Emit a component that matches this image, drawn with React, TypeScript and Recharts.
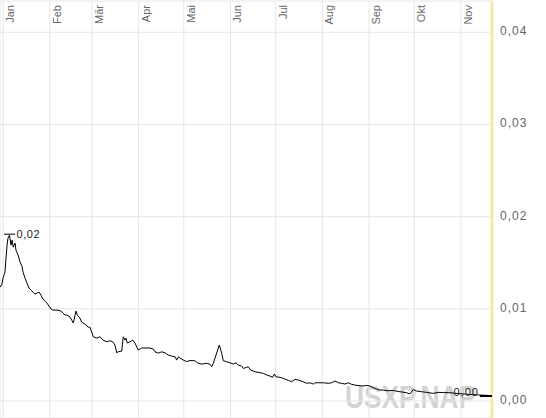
import React from 'react';
import { LineChart, Line, XAxis, YAxis, CartesianGrid } from 'recharts';

// month grid: day-of-year where each month starts
const months = ['Jan', 'Feb', 'Mär', 'Apr', 'Mai', 'Jun', 'Jul', 'Aug', 'Sep', 'Okt', 'Nov'];
const monthStarts = [0, 31, 59, 90, 120, 151, 181, 212, 243, 273, 304];

const priceTicks = [0, 0.01, 0.02, 0.03, 0.04];

// day index (since 1 Jan) and closing price
const days = [
  -1.9, -0.7, 0, 1.3, 2, 2.7, 3.3, 4.3, 5.3, 6, 6.8, 8, 8.6, 10, 11.3, 12.6, 13.3, 14.6, 15.9, 17.3,
  18.6, 19.9, 21.2, 22.6, 23.9, 25.2, 26.5, 27.9, 29.2, 30.5, 31.9, 33.2, 35.2, 36.5, 38.5, 39.8, 41.2, 42.5, 44.5, 45.6,
  46.7, 47.8, 48.5, 49.3, 51.1, 52.2, 54.4, 56.6, 57.7, 58.9, 59.9, 62.2, 64.4, 66.4, 68.8, 71, 72.8, 74.3, 75.5, 76.5,
  78.8, 79.8, 81, 81.6, 82.5, 84.3, 86.1, 87.6, 89.8, 92.1, 94.3, 97.6, 99.8, 100.9, 103.1, 105.3, 107.5, 109.7, 112, 114.2,
  115.3, 116.4, 117.5, 119.7, 121.9, 124.1, 127.4, 129.6, 131.9, 135.2, 137.4, 138.5, 139.6, 141.4, 143.6, 145.2, 146.2, 148.5, 150.7, 152.9,
  154.6, 156.2, 158.4, 159.5, 161.7, 162.8, 164.4, 167.3, 170.6, 172.8, 175, 177.2, 179, 180.1, 181.2, 183.9, 186, 189.4, 191.6, 193.8,
  196, 199.3, 201.6, 203.8, 206, 207.1, 209.3, 212.6, 216, 218.2, 220.4, 222.6, 224.8, 227, 229.2, 231.4, 233.6, 237, 239.1, 241.4,
  243.6, 245.8, 248, 250.2, 252.4, 254.7, 259.1, 263.5, 268, 270.1, 272.3, 274.6, 277.9, 281.2, 285.6, 288.9, 292.3, 296.7, 302, 306.6,
  311.3, 316.6, 323.2,
];
const prices = [
  0.01236, 0.01268, 0.01333, 0.01398, 0.0155, 0.01691, 0.01767, 0.01799, 0.01691, 0.01745, 0.01669, 0.01713, 0.01637, 0.01583, 0.01507, 0.01463, 0.01398, 0.01333, 0.01279, 0.01225,
  0.01203, 0.01182, 0.0116, 0.01171, 0.01182, 0.01149, 0.01106, 0.01084, 0.01062, 0.0103, 0.00997, 0.00986, 0.00986, 0.00986, 0.00976, 0.00954, 0.00932, 0.00932, 0.00911, 0.00878,
  0.00846, 0.00932, 0.00976, 0.00932, 0.009, 0.00856, 0.00835, 0.00802, 0.00802, 0.00748, 0.00697, 0.00683, 0.00697, 0.00661, 0.00643, 0.00654, 0.00643, 0.00607, 0.00524, 0.00534,
  0.00542, 0.00697, 0.00661, 0.00683, 0.00629, 0.00643, 0.00661, 0.00629, 0.00553, 0.00575, 0.00575, 0.00575, 0.00564, 0.00534, 0.0052, 0.00534, 0.00524, 0.00499, 0.00488, 0.0048,
  0.00444, 0.0048, 0.00466, 0.00444, 0.00428, 0.00439, 0.00437, 0.00409, 0.00401, 0.00409, 0.00398, 0.00372, 0.00409, 0.00499, 0.00607, 0.00517, 0.00437, 0.00426, 0.00415, 0.00401,
  0.00415, 0.0039, 0.00379, 0.00354, 0.00365, 0.00372, 0.00336, 0.00318, 0.00307, 0.003, 0.00282, 0.00271, 0.00257, 0.00293, 0.00263, 0.00257, 0.00246, 0.00224, 0.00209, 0.00235,
  0.00228, 0.00209, 0.00192, 0.00198, 0.00184, 0.00198, 0.00198, 0.00198, 0.00192, 0.00198, 0.00217, 0.00198, 0.00192, 0.00184, 0.00198, 0.00181, 0.00173, 0.00166, 0.00163, 0.0017,
  0.00163, 0.00144, 0.0013, 0.00119, 0.00119, 0.00112, 0.00114, 0.00101, 0.0009, 0.00076, 0.00125, 0.00108, 0.00101, 0.00094, 0.00083, 0.00094, 0.00092, 0.0009, 0.00081, 0.00076,
  0.0007, 0.00065, 0.0006,
];

const data = days.map((day, i) => ({ day, price: prices[i] }));
const peakIndex = prices.reduce((best, p, i) => (p > prices[best] ? i : best), 0);
const lastIndex = prices.length - 1;

const FONT = "'Liberation Sans', Arial, sans-serif";
const fmt = (v: number) => v.toFixed(2).replace('.', ',');

const MonthTick = (props: any) => {
  const { x, payload } = props;
  const idx = monthStarts.indexOf(payload.value);
  const tx = x + 11;
  const ty = 5;
  return (
    <text x={tx} y={ty} transform={`rotate(-90, ${tx}, ${ty})`} textAnchor="end"
      fontSize={11} fontFamily={FONT} fill="#666">
      {months[idx]}
    </text>
  );
};

const PriceTick = (props: any) => {
  const { x, y, payload } = props;
  return (
    <text x={x + 8} y={y + 3} textAnchor="start" fontSize={12} letterSpacing={1}
      fontFamily={FONT} fill="#666">
      {fmt(payload.value)}
    </text>
  );
};

const Marker = (props: any) => {
  const { x, y, index, value } = props;
  if (index === peakIndex) {
    return (
      <g>
        <line x1={x - 5.5} x2={x + 5.5} y1={y - 1} y2={y - 1} stroke="#000" />
        <text x={x + 7} y={y - 1} dominantBaseline="central" fontSize={11} letterSpacing={0.6}
          fontFamily={FONT} fill="#222">{fmt(Number(value))}</text>
      </g>
    );
  }
  if (index === lastIndex) {
    return (
      <g>
        <line x1={x - 10} x2={x + 2} y1={y + 0.5} y2={y + 0.5} stroke="#000" strokeWidth={2} />
        <text x={x - 11} y={y} textAnchor="end" fontSize={11} letterSpacing={1}
          fontFamily={FONT} fill="#222">{fmt(Number(value))}</text>
      </g>
    );
  }
  return <g />;
};

export default function App() {
  return (
    <div style={{ position: 'absolute', left: 0, top: 0, width: 546, height: 418, background: '#fff' }}>
      <svg width={546} height={418} style={{ position: 'absolute', left: 0, top: 0 }}>
        <text x={345} y={408} fontSize={32} fontWeight="bold" fontFamily={FONT} fill="#d3d3d3"
          textLength={131} lengthAdjust="spacingAndGlyphs">USXP.NAP</text>
      </svg>
      <div style={{ position: 'absolute', left: 0, top: 0 }}>
        <LineChart width={546} height={418} data={data} margin={{ top: 0, right: 0, left: 0, bottom: 0 }}>
          <CartesianGrid stroke="#e6e6e6" />
          <XAxis dataKey="day" type="number" orientation="top" height={1} domain={[-2, 324.6]}
            ticks={monthStarts} interval={0} allowDataOverflow axisLine={false} tickLine={false}
            tickSize={0} tickMargin={0} tick={<MonthTick />} />
          <YAxis orientation="right" width={54} domain={[-0.00184, 0.04339]} ticks={priceTicks}
            interval={0} allowDataOverflow axisLine={{ stroke: '#fbe5a6', strokeWidth: 3 }}
            tickLine={false} tickSize={0} tickMargin={0} tick={<PriceTick />} />
          <Line type="linear" dataKey="price" stroke="#000" strokeWidth={1} dot={false}
            isAnimationActive={false} label={<Marker />} />
        </LineChart>
      </div>
    </div>
  );
}
